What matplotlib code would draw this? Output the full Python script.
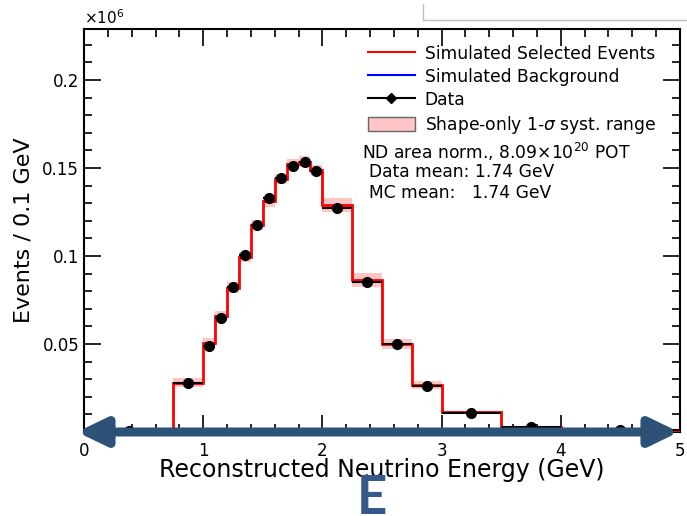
import numpy as np
import matplotlib
matplotlib.use("Agg")
import matplotlib.pyplot as plt
from matplotlib.lines import Line2D
from matplotlib.patches import Patch, FancyArrowPatch

plt.rcParams['font.family'] = ['DejaVu Sans']

# bin edges (GeV) and contents, in units of 1e6 events / 0.1 GeV
edges = [0.0, 0.75, 1.0, 1.1, 1.2, 1.3, 1.4, 1.5, 1.6, 1.7, 1.8, 1.9, 2.0,
         2.25, 2.5, 2.75, 3.0, 3.5, 4.0, 5.0]
mc = [0.0, 0.0280, 0.0505, 0.0660, 0.0820, 0.0995, 0.1176, 0.1310, 0.1438,
      0.1523, 0.1536, 0.1489, 0.1290, 0.0864, 0.0500, 0.0267, 0.0112, 0.0030, 0.0008]
syst = [0.0, 0.0025, 0.0030, 0.0030, 0.0030, 0.0030, 0.0030, 0.0030, 0.0030,
        0.0030, 0.0030, 0.0030, 0.0040, 0.0040, 0.0030, 0.0020, 0.0010, 0.0005, 0.0002]
bkg = [0.0, 0.0002, 0.0003, 0.0003, 0.0004, 0.0004, 0.0004, 0.0004, 0.0004,
       0.0004, 0.0004, 0.0004, 0.0004, 0.0003, 0.0003, 0.0002, 0.0002, 0.0001, 0.0001]
data = [0.0005, 0.0277, 0.0490, 0.0646, 0.0826, 0.1006, 0.1176, 0.1331, 0.1445,
        0.1513, 0.1532, 0.1485, 0.1271, 0.0850, 0.0498, 0.0263, 0.0106, 0.0030, 0.0010]
data_err = [0.0, 0.0006, 0.0008, 0.0009, 0.0010, 0.0011, 0.0012, 0.0012, 0.0013,
            0.0013, 0.0013, 0.0013, 0.0008, 0.0006, 0.0005, 0.0003, 0.0002, 0.0001, 0.0001]

edges = np.array(edges)
mc = np.array(mc)
syst = np.array(syst)
centers = 0.5 * (edges[1:] + edges[:-1])
halfw = 0.5 * np.diff(edges)

fig = plt.figure(figsize=(6.87, 5.16), dpi=100)
ax = fig.add_axes([84 / 687, 84 / 516, 596 / 687, 403 / 516])

ax.stairs(mc + syst, edges, baseline=mc - syst, fill=True, color='#ffc4c4', lw=0, zorder=1)
ax.stairs(bkg, edges, color='blue', lw=1.5, zorder=2)
ax.stairs(mc, edges, color='red', lw=2.0, zorder=3)
ax.errorbar(centers, data, xerr=halfw, yerr=data_err, fmt='o', color='black',
            ms=7, elinewidth=1.5, capsize=0, zorder=4)

ax.set_xlim(0, 5)
ax.set_ylim(0, 0.229)
ax.set_xticks([0, 1, 2, 3, 4, 5])
ax.set_xticklabels(['0', '1', '2', '3', '4', '5'])
ax.set_xticks(np.arange(0, 5.01, 0.2), minor=True)
ax.set_yticks([0.05, 0.1, 0.15, 0.2])
ax.set_yticklabels(['0.05', '0.1', '0.15', '0.2'])
ax.set_yticks(np.arange(0.01, 0.229, 0.01), minor=True)
ax.tick_params(which='both', direction='in', top=True, right=True, labelsize=12, width=1.2)
ax.tick_params(which='major', length=12)
ax.tick_params(which='minor', length=6)
ax.tick_params(axis='x', pad=7)
for s in ax.spines.values():
    s.set_linewidth(1.5)

ax.set_xlabel('Reconstructed Neutrino Energy (GeV)', fontsize=17, labelpad=-1)
ax.set_ylabel('Events / 0.1 GeV', fontsize=16, labelpad=6)
fig.text(84 / 687, 1 - 18 / 516, r'$\times$10$^{6}$', fontsize=11, va='center', ha='left')

handles = [
    Line2D([], [], color='red', lw=1.5),
    Line2D([], [], color='blue', lw=1.5),
    Line2D([], [], color='black', lw=1.5, marker='D', ms=5),
    Patch(facecolor='#ffc4c4', edgecolor='#666666', lw=1.0),
]
labels = ['Simulated Selected Events', 'Simulated Background', 'Data',
          r'Shape-only 1-$\sigma$ syst. range']
ax.legend(handles, labels, loc='upper left', bbox_to_anchor=(0.465, 0.978),
          frameon=False, fontsize=12.3, handlelength=2.75, handleheight=0.9,
          handletextpad=0.58, labelspacing=0.29, borderaxespad=0)

ax.text(0.466, 0.695, r'ND area norm., 8.09$\times$10$^{20}$ POT', transform=ax.transAxes,
        fontsize=12.3, va='center')
ax.text(0.478, 0.645, 'Data mean: 1.74 GeV', transform=ax.transAxes, fontsize=12.3, va='center')
ax.text(0.478, 0.593, 'MC mean:   1.74 GeV', transform=ax.transAxes, fontsize=12.3, va='center')

# double-headed arrow over the energy axis and the "E" marker under it
arrow = FancyArrowPatch((77 / 687, 1 - 432 / 516), (679 / 687, 1 - 432 / 516),
                        transform=fig.transFigure, color='#2e5277',
                        arrowstyle='<|-|>,head_length=1.55,head_width=0.75',
                        mutation_scale=11, lw=6.5, shrinkA=0, shrinkB=0)
fig.add_artist(arrow)
fig.text(372 / 687, 1 - 499 / 516, 'E', fontsize=38, fontweight='bold', color='#36598a',
         family='Lato', ha='center', va='center')

# thin grey frame lines in the top right corner
fig.add_artist(Line2D([423 / 687, 423 / 687], [1 - 4 / 516, 1 - 20 / 516],
                      transform=fig.transFigure, color='#c0c0c0', lw=1))
fig.add_artist(Line2D([423 / 687, 1.0], [1 - 20 / 516, 1 - 20 / 516],
                      transform=fig.transFigure, color='#c0c0c0', lw=1))

fig.savefig('out.png', dpi=100)
